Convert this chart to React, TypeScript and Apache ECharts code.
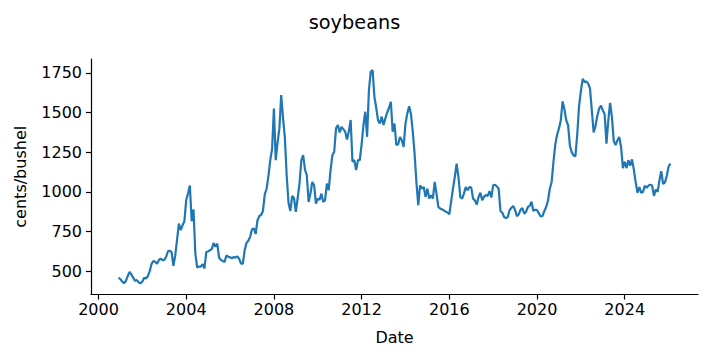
import React, { useEffect, useRef } from "react";
import * as echarts from "echarts";

const chartTitle = "soybeans";
const xAxisName = "Date";
const yAxisName = "cents/bushel";

// Monthly series starts December 2000
const firstYear = 2000;
const firstMonth = 12;

const v2000 = [460];
const v2001 = [450, 435, 425, 440, 470, 496, 480, 460, 440, 445, 430, 425];
const v2002 = [435, 460, 455, 470, 500, 545, 565, 560, 548, 570, 580, 570];
const v2003 = [572, 590, 626, 630, 620, 535, 600, 700, 800, 760, 790, 815];
const v2004 = [947, 990, 1040, 815, 889, 612, 524, 530, 529, 545, 518, 622];
const v2005 = [625, 633, 640, 678, 655, 675, 585, 572, 565, 559, 600, 592];
const v2006 = [588, 582, 590, 586, 594, 578, 548, 548, 633, 679, 692, 717];
const v2007 = [765, 770, 735, 820, 848, 855, 880, 985, 1020, 1100, 1200, 1270];
const v2008 = [1525, 1200, 1310, 1400, 1610, 1465, 1340, 1100, 930, 880, 975, 960];
const v2009 = [874, 960, 1052, 1199, 1231, 1140, 1105, 937, 990, 1063, 1042, 926];
const v2010 = [958, 951, 989, 937, 948, 1053, 1011, 1137, 1231, 1253, 1400, 1421];
const v2011 = [1375, 1410, 1395, 1380, 1330, 1380, 1453, 1190, 1200, 1137, 1200, 1200];
const v2012 = [1300, 1420, 1505, 1347, 1641, 1757, 1768, 1600, 1530, 1450, 1431, 1474];
const v2013 = [1421, 1463, 1500, 1530, 1568, 1379, 1431, 1295, 1300, 1346, 1325, 1283];
const v2014 = [1430, 1493, 1539, 1490, 1380, 1240, 1060, 916, 1042, 1021, 1031, 968];
const v2015 = [1021, 958, 979, 958, 1063, 989, 905, 895, 890, 884, 876, 870];
const v2016 = [859, 940, 1021, 1094, 1178, 1094, 968, 958, 989, 1031, 1010, 1031];
const v2017 = [1027, 958, 947, 920, 968, 995, 947, 970, 980, 975, 1005, 965];
const v2018 = [1042, 1045, 1035, 1020, 880, 870, 842, 835, 842, 886, 900, 912];
const v2019 = [885, 848, 858, 888, 898, 863, 875, 905, 912, 938, 880, 888];
const v2020 = [885, 865, 845, 848, 880, 905, 945, 1020, 1063, 1190, 1300, 1360];
const v2021 = [1400, 1450, 1570, 1520, 1450, 1420, 1290, 1250, 1230, 1225, 1360, 1540];
const v2022 = [1635, 1712, 1693, 1695, 1682, 1650, 1510, 1375, 1415, 1480, 1525, 1543];
const v2023 = [1514, 1490, 1304, 1450, 1560, 1470, 1320, 1295, 1325, 1346, 1283, 1150];
const v2024 = [1190, 1150, 1200, 1165, 1205, 1140, 1060, 995, 1030, 995, 1000, 1040];
const v2025 = [1025, 1040, 1045, 1040, 975, 1015, 1000, 1073, 1130, 1050, 1060, 1100];
const v2026 = [1160, 1178];

const yTickValues = [500, 750, 1000, 1250, 1500, 1750];
const xTickYears = [2000, 2004, 2008, 2012, 2016, 2020, 2024];

const allValues = [
  ...v2000, ...v2001, ...v2002, ...v2003, ...v2004, ...v2005, ...v2006,
  ...v2007, ...v2008, ...v2009, ...v2010, ...v2011, ...v2012, ...v2013,
  ...v2014, ...v2015, ...v2016, ...v2017, ...v2018, ...v2019, ...v2020,
  ...v2021, ...v2022, ...v2023, ...v2024, ...v2025, ...v2026,
];

const FONT = "DejaVu Sans";
const LABEL_SIZE = 16;
const TITLE_SIZE = 19.3;

export default function App() {
  const ref = useRef<HTMLDivElement>(null);
  useEffect(() => {
    if (!ref.current) return;
    const chart = echarts.init(ref.current, null, { renderer: "svg" });
    // x as decimal year (month start)
    const data = allValues.map((v, i) => [firstYear + (firstMonth - 1 + i) / 12, v]);
    const first = data[0][0];
    const last = data[data.length - 1][0];
    const span = last - first;
    const xMin = first - 0.05 * span;
    const xMax = last + 0.05 * span;
    const axisColor = "#000";

    chart.setOption({
      animation: false,
      backgroundColor: "#fff",
      textStyle: { fontFamily: FONT },
      title: {
        text: chartTitle,
        left: "center",
        top: 8,
        textStyle: { fontFamily: FONT, fontSize: TITLE_SIZE, fontWeight: "normal", color: "#000" },
      },
      grid: {
        left: 91,
        top: 59,
        width: 607,
        height: 235.5,
        containLabel: false,
        outerBoundsMode: "none",
      },
      xAxis: {
        type: "value",
        min: xMin,
        max: xMax,
        name: xAxisName,
        nameLocation: "middle",
        nameGap: 35,
        nameTextStyle: { fontFamily: FONT, fontSize: LABEL_SIZE, color: "#000" },
        axisLine: { show: true, onZero: false, lineStyle: { color: axisColor, width: 1.2 } },
        axisTick: {
          show: true,
          inside: false,
          length: 5,
          lineStyle: { color: axisColor, width: 1.2 },
          customValues: xTickYears,
        },
        axisLabel: {
          show: true,
          margin: 7,
          fontFamily: FONT,
          fontSize: LABEL_SIZE,
          color: "#000",
          customValues: xTickYears,
          formatter: (val: number) => String(Math.round(val)),
        },
        splitLine: { show: false },
      },
      yAxis: {
        type: "value",
        min: 354,
        max: 1837,
        name: yAxisName,
        nameLocation: "middle",
        nameGap: 63,
        nameRotate: 90,
        nameTextStyle: { fontFamily: FONT, fontSize: LABEL_SIZE, color: "#000" },
        axisLine: { show: true, onZero: false, lineStyle: { color: axisColor, width: 1.2 } },
        axisTick: {
          show: true,
          inside: false,
          length: 5,
          lineStyle: { color: axisColor, width: 1.2 },
          customValues: yTickValues,
        },
        axisLabel: {
          show: true,
          margin: 9,
          fontFamily: FONT,
          fontSize: LABEL_SIZE,
          color: "#000",
          customValues: yTickValues,
          formatter: (val: number) => String(val),
        },
        splitLine: { show: false },
      },
      series: [
        {
          type: "line",
          data,
          showSymbol: false,
          symbol: "none",
          lineStyle: { color: "#1f77b4", width: 2.2 },
          itemStyle: { color: "#1f77b4" },
        },
      ],
    });
    return () => chart.dispose();
  }, []);
  return (
    <div
      ref={ref}
      style={{ position: "fixed", left: 0, top: 0, width: 709, height: 361, background: "#fff" }}
    />
  );
}
